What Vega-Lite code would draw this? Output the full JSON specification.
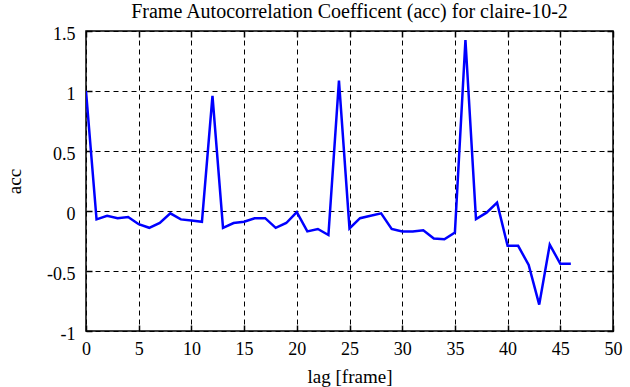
{
  "$schema": "https://vega.github.io/schema/vega-lite/v6.json",
  "width": 527,
  "height": 300,
  "autosize": {"type": "none"},
  "padding": {"left": 86, "top": 31, "right": 17, "bottom": 56},
  "background": "white",
  "title": {"text": "Frame Autocorrelation Coefficent (acc) for claire-10-2", "font": "Liberation Serif", "fontSize": 20, "fontWeight": "normal", "color": "black", "anchor": "middle", "offset": 3},
  "config": {
    "view": {"stroke": "black", "strokeWidth": 1.5},
    "axis": {
      "domain": false,
      "ticks": true,
      "tickColor": "black",
      "tickSize": -6,
      "tickWidth": 1.5,
      "grid": true,
      "gridColor": "black",
      "gridDash": [5, 4],
      "gridOpacity": 1,
      "gridWidth": 1,
      "labelFont": "'Times New Roman', 'Liberation Serif', serif",
      "labelFontSize": 18,
      "labelColor": "black",
      "titleFont": "Liberation Serif",
      "titleFontSize": 19,
      "titleFontWeight": "normal",
      "titleColor": "black"
    }
  },
  "data": {"values": [
    {"lag": 0, "acc": 1.0}, {"lag": 1, "acc": -0.07}, {"lag": 2, "acc": -0.04}, {"lag": 3, "acc": -0.06},
    {"lag": 4, "acc": -0.05}, {"lag": 5, "acc": -0.11}, {"lag": 6, "acc": -0.14}, {"lag": 7, "acc": -0.1},
    {"lag": 8, "acc": -0.02}, {"lag": 9, "acc": -0.07}, {"lag": 10, "acc": -0.08}, {"lag": 11, "acc": -0.09},
    {"lag": 12, "acc": 0.96}, {"lag": 13, "acc": -0.14}, {"lag": 14, "acc": -0.1}, {"lag": 15, "acc": -0.09},
    {"lag": 16, "acc": -0.06}, {"lag": 17, "acc": -0.06}, {"lag": 18, "acc": -0.14}, {"lag": 19, "acc": -0.1},
    {"lag": 20, "acc": -0.01}, {"lag": 21, "acc": -0.17}, {"lag": 22, "acc": -0.15}, {"lag": 23, "acc": -0.2},
    {"lag": 24, "acc": 1.086}, {"lag": 25, "acc": -0.145}, {"lag": 26, "acc": -0.06}, {"lag": 27, "acc": -0.04},
    {"lag": 28, "acc": -0.02}, {"lag": 29, "acc": -0.15}, {"lag": 30, "acc": -0.17}, {"lag": 31, "acc": -0.17},
    {"lag": 32, "acc": -0.16}, {"lag": 33, "acc": -0.23}, {"lag": 34, "acc": -0.235}, {"lag": 35, "acc": -0.18},
    {"lag": 36, "acc": 1.425}, {"lag": 37, "acc": -0.067}, {"lag": 38, "acc": -0.014}, {"lag": 39, "acc": 0.07},
    {"lag": 40, "acc": -0.29}, {"lag": 41, "acc": -0.29}, {"lag": 42, "acc": -0.45}, {"lag": 43, "acc": -0.78},
    {"lag": 44, "acc": -0.28}, {"lag": 45, "acc": -0.44}, {"lag": 46, "acc": -0.44}
  ]},
  "layer": [
    {
      "mark": {"type": "line", "color": "#0000ff", "strokeWidth": 2.5, "clip": true},
      "encoding": {
        "x": {"field": "lag", "type": "quantitative", "scale": {"domain": [0, 50], "nice": false},
              "axis": {"values": [0, 5, 10, 15, 20, 25, 30, 35, 40, 45, 50], "title": "lag [frame]", "labelPadding": 15, "titlePadding": 9, "labelFlush": false}},
        "y": {"field": "acc", "type": "quantitative", "scale": {"domain": [-1, 1.5], "nice": false, "zero": false},
              "axis": {"values": [-1, -0.5, 0, 0.5, 1, 1.5], "labelExpr": "'' + datum.value", "title": "acc", "labelPadding": 17, "labelOffset": 3, "titlePadding": 22, "labelFlush": false}}
      }
    },
    {
      "mark": {"type": "line", "opacity": 0},
      "encoding": {
        "x": {"field": "lag", "type": "quantitative", "scale": {"domain": [0, 50], "nice": false},
              "axis": {"orient": "top", "values": [0, 5, 10, 15, 20, 25, 30, 35, 40, 45, 50], "labels": false, "grid": false, "title": null}},
        "y": {"field": "acc", "type": "quantitative", "scale": {"domain": [-1, 1.5], "nice": false, "zero": false},
              "axis": {"orient": "right", "values": [-1, -0.5, 0, 0.5, 1, 1.5], "labels": false, "grid": false, "title": null}}
      }
    }
  ],
  "resolve": {"axis": {"x": "independent", "y": "independent"}}
}
